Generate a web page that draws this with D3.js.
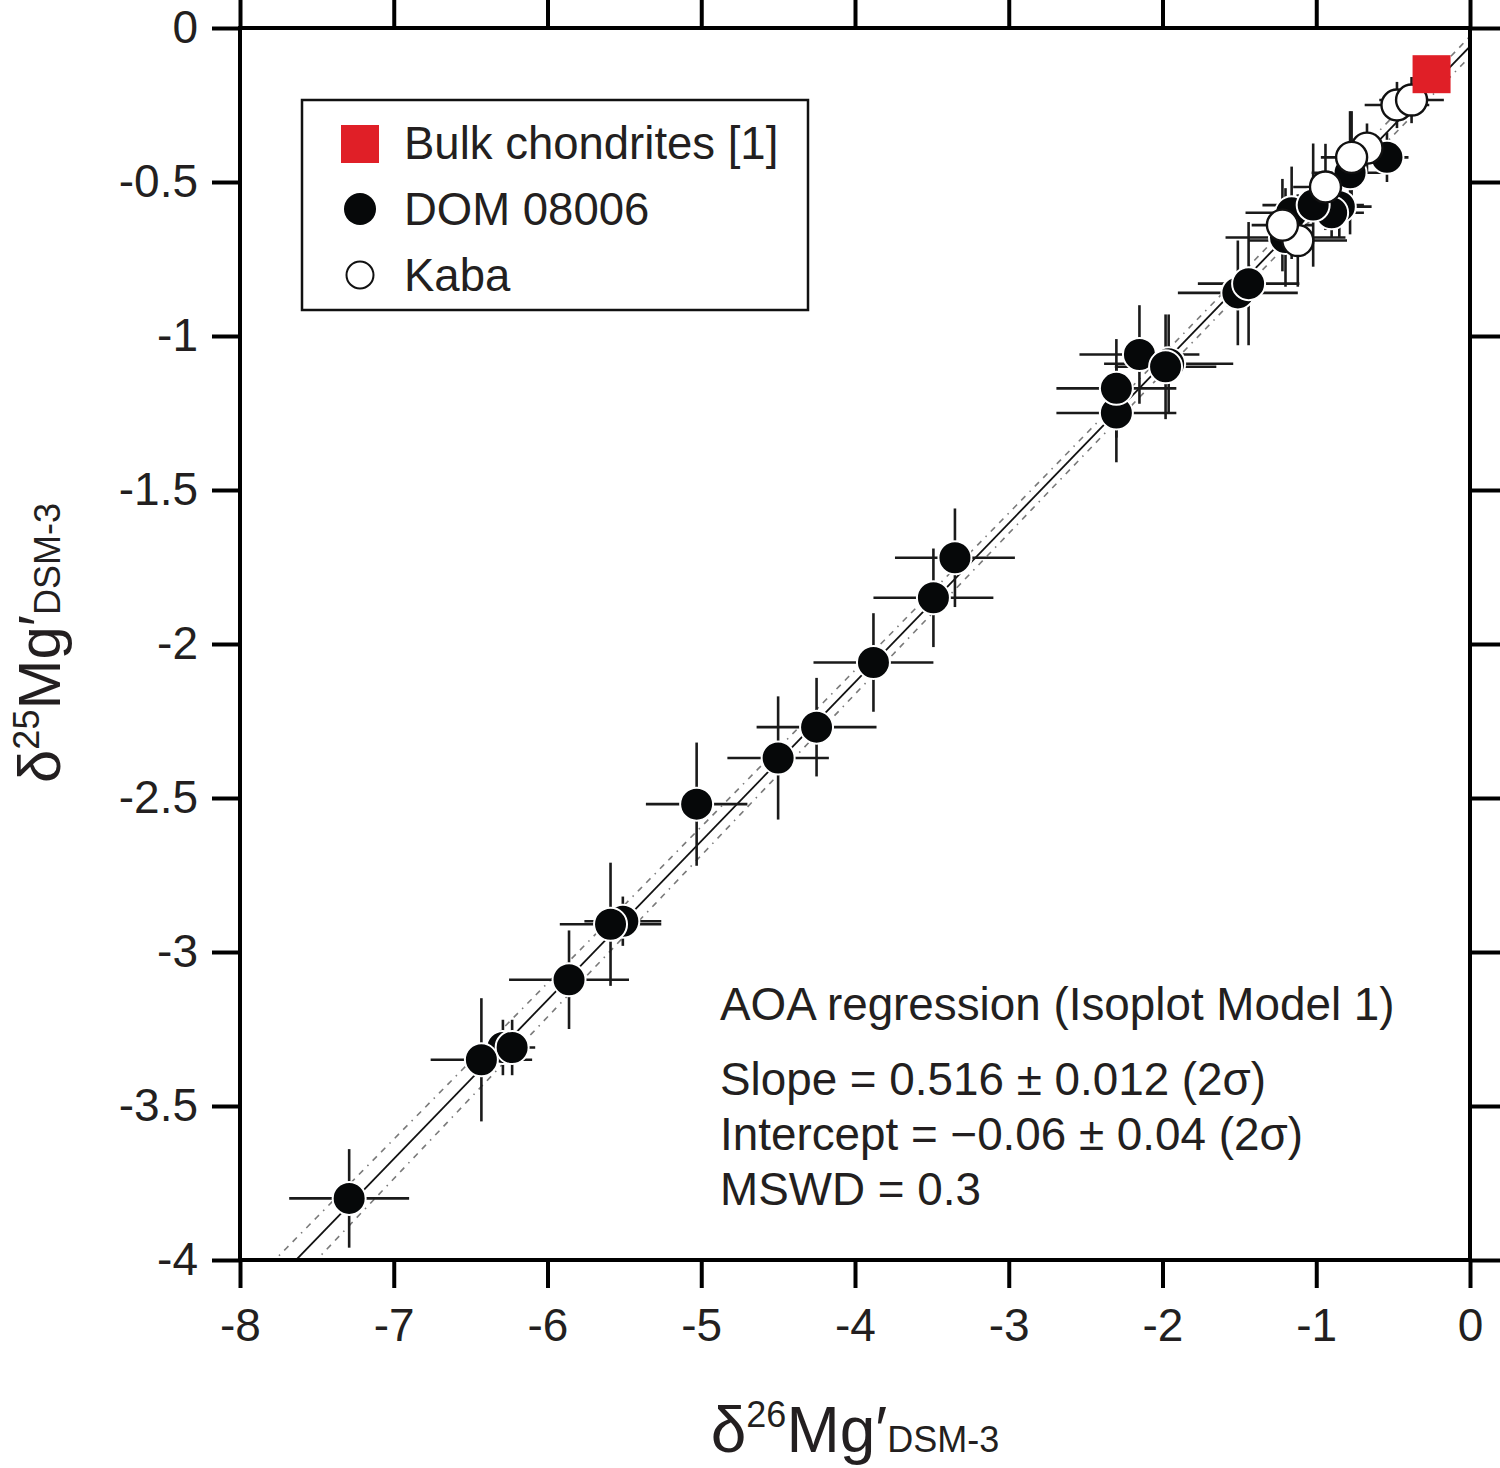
<!DOCTYPE html>
<html>
<head>
<meta charset="utf-8">
<script src="https://cdn.jsdelivr.net/npm/d3@7"></script>
<style>
  html, body { margin: 0; padding: 0; background: #fff; }
  svg { display: block; }
  text { font-family: Arial, "Liberation Sans", Helvetica, sans-serif; fill: #231f20; }
</style>
</head>
<body>
<svg id="chart" width="1500" height="1468"></svg>
<script>
// ---------------- DATA ----------------
const xTicks = [-8, -7, -6, -5, -4, -3, -2, -1, 0];
const xTickLabels = ["-8", "-7", "-6", "-5", "-4", "-3", "-2", "-1", "0"];
const yTicks = [0, -0.5, -1, -1.5, -2, -2.5, -3, -3.5, -4];
const yTickLabels = ["0", "-0.5", "-1", "-1.5", "-2", "-2.5", "-3", "-3.5", "-4"];

// [d26Mg', d25Mg', 2s x, 2s y]
const domPoints = [
  [-7.29, -3.80, 0.39, 0.16],
  [-6.29, -3.31, 0.15, 0.09],
  [-6.23, -3.31, 0.15, 0.09],
  [-6.43, -3.35, 0.33, 0.20],
  [-5.86, -3.09, 0.39, 0.16],
  [-5.51, -2.90, 0.25, 0.08],
  [-5.59, -2.91, 0.33, 0.20],
  [-5.03, -2.52, 0.33, 0.20],
  [-4.50, -2.37, 0.33, 0.20],
  [-4.25, -2.27, 0.39, 0.16],
  [-3.88, -2.06, 0.39, 0.16],
  [-3.49, -1.85, 0.39, 0.16],
  [-3.35, -1.72, 0.39, 0.16],
  [-2.30, -1.25, 0.39, 0.16],
  [-2.30, -1.17, 0.39, 0.16],
  [-2.15, -1.06, 0.39, 0.16],
  [-1.96, -1.09, 0.42, 0.16],
  [-1.98, -1.10, 0.33, 0.17],
  [-1.51, -0.86, 0.39, 0.17],
  [-1.44, -0.83, 0.33, 0.20],
  [-1.20, -0.68, 0.39, 0.16],
  [-1.16, -0.60, 0.30, 0.15],
  [-0.85, -0.58, 0.21, 0.10],
  [-0.90, -0.60, 0.21, 0.08],
  [-1.02, -0.575, 0.33, 0.20],
  [-0.78, -0.47, 0.25, 0.20],
  [-0.54, -0.42, 0.14, 0.08]
];
const kabaPoints = [
  [-1.12, -0.69, 0.32, 0.15],
  [-1.22, -0.64, 0.20, 0.15],
  [-0.94, -0.516, 0.21, 0.14],
  [-0.67, -0.39, 0.15, 0.08],
  [-0.77, -0.42, 0.20, 0.15],
  [-0.475, -0.25, 0.21, 0.075],
  [-0.38, -0.234, 0.21, 0.075]
];
const bulkPoints = [[-0.25, -0.15]];

// regression (AOA, Isoplot Model 1)
const regSlope = 0.516;
const regIntercept = -0.06;
// envelope half-width params (in δ25 units)
const envMinHalf = 0.029, envSlopeErr = 0.0104, envCentreX = -1.5;

const legendLabels = ["Bulk chondrites [1]", "DOM 08006", "Kaba"];
const noteLines = [
  "AOA regression (Isoplot Model 1)",
  "Slope = 0.516 \u00b1 0.012 (2\u03c3)",
  "Intercept = \u22120.06 \u00b1 0.04 (2\u03c3)",
  "MSWD = 0.3"
];

// ---------------- CHART ----------------
const svg = d3.select("#chart");
const x = d3.scaleLinear().domain([-8, 0]).range([240, 1470]);
const y = d3.scaleLinear().domain([-4, 0]).range([1260, 28]);

svg.append("defs").append("clipPath").attr("id", "plotclip")
  .append("rect").attr("x", x(-8)).attr("y", y(0)).attr("width", x(0) - x(-8)).attr("height", y(-4) - y(0));

const plot = svg.append("g").attr("clip-path", "url(#plotclip)");

// envelope
const xs = d3.range(-8, 0.0001, 0.05);
const fit = v => regSlope * v + regIntercept;
const half = v => Math.sqrt(envMinHalf * envMinHalf + Math.pow(envSlopeErr * (v - envCentreX), 2));
const line = d3.line().x(d => x(d[0])).y(d => y(d[1]));
[1, -1].forEach(s => {
  plot.append("path")
    .attr("d", line(xs.map(v => [v, fit(v) + s * half(v)])))
    .attr("fill", "none").attr("stroke", "#7a7a7a").attr("stroke-width", 1.6)
    .attr("stroke-dasharray", "6,6,6,6,1.5,6");
});
plot.append("path")
  .attr("d", line([[-8, fit(-8)], [0, fit(0)]]))
  .attr("fill", "none").attr("stroke", "#111").attr("stroke-width", 1.8);

// error bars
const allErr = domPoints.concat(kabaPoints);
const eb = plot.append("g").attr("stroke", "#1a1a1a").attr("stroke-width", 2.6);
allErr.forEach(d => {
  eb.append("line").attr("x1", x(d[0] - d[2])).attr("x2", x(d[0] + d[2])).attr("y1", y(d[1])).attr("y2", y(d[1]));
  eb.append("line").attr("x1", x(d[0])).attr("x2", x(d[0])).attr("y1", y(d[1] - d[3])).attr("y2", y(d[1] + d[3]));
});

// points
plot.append("g").selectAll("circle").data(domPoints).join("circle")
  .attr("cx", d => x(d[0])).attr("cy", d => y(d[1])).attr("r", 16.5)
  .attr("fill", "#060809").attr("stroke", "#fff").attr("stroke-width", 2);
plot.append("g").selectAll("circle").data(kabaPoints).join("circle")
  .attr("cx", d => x(d[0])).attr("cy", d => y(d[1])).attr("r", 15.5)
  .attr("fill", "#fff").attr("stroke", "#111").attr("stroke-width", 2.4);
plot.append("g").selectAll("rect").data(bulkPoints).join("rect")
  .attr("x", d => x(d[0]) - 19).attr("y", d => y(d[1]) - 19).attr("width", 38).attr("height", 38)
  .attr("fill", "#e01f27");

// axes
const fmtX = (v) => xTickLabels[xTicks.indexOf(v)];
const fmtY = (v) => yTickLabels[yTicks.indexOf(v)];
function styleAxis(g) {
  g.select(".domain").remove();
  g.selectAll(".tick line").attr("stroke", "#000").attr("stroke-width", 4);
  g.selectAll(".tick text").attr("font-size", 46).attr("fill", "#231f20")
    .attr("font-family", "Arial, 'Liberation Sans', sans-serif");
}
svg.append("g").attr("transform", `translate(0,${y(-4)})`)
  .call(d3.axisBottom(x).tickValues(xTicks).tickFormat(fmtX).tickSize(28).tickSizeOuter(0).tickPadding(20))
  .call(styleAxis);
svg.append("g").attr("transform", `translate(${x(-8)},0)`)
  .call(d3.axisLeft(y).tickValues(yTicks).tickFormat(fmtY).tickSize(28).tickSizeOuter(0).tickPadding(14))
  .call(styleAxis);
svg.append("g").attr("transform", `translate(0,${y(0)})`)
  .call(d3.axisTop(x).tickValues(xTicks).tickFormat("").tickSize(30).tickSizeOuter(0))
  .call(styleAxis);
svg.append("g").attr("transform", `translate(${x(0)},0)`)
  .call(d3.axisRight(y).tickValues(yTicks).tickFormat("").tickSize(30).tickSizeOuter(0))
  .call(styleAxis);

// frame
svg.append("rect").attr("x", x(-8)).attr("y", y(0)).attr("width", x(0) - x(-8)).attr("height", y(-4) - y(0))
  .attr("fill", "none").attr("stroke", "#000").attr("stroke-width", 4);

// legend
const lg = svg.append("g");
lg.append("rect").attr("x", 302).attr("y", 100).attr("width", 506).attr("height", 210)
  .attr("fill", "#fff").attr("stroke", "#111").attr("stroke-width", 2.5);
lg.append("rect").attr("x", 341).attr("y", 125).attr("width", 38).attr("height", 38).attr("fill", "#e01f27");
lg.append("circle").attr("cx", 360).attr("cy", 209).attr("r", 16).attr("fill", "#060809");
lg.append("circle").attr("cx", 360).attr("cy", 275).attr("r", 13.5).attr("fill", "#fff").attr("stroke", "#111").attr("stroke-width", 2);
legendLabels.forEach((t, i) => {
  lg.append("text").attr("x", 404).attr("y", 159 + i * 66).attr("font-size", 45.5).text(t);
});

// annotation
const noteY = [1020, 1095, 1150, 1205];
noteLines.forEach((t, i) => {
  svg.append("text").attr("x", 720).attr("y", noteY[i]).attr("font-size", 45.8).text(t);
});

// axis titles
function title(g, pre, fs, sup) {
  const t = g.append("text").attr("text-anchor", "middle");
  t.append("tspan").attr("font-size", fs).text("\u03b4");
  t.append("tspan").attr("font-size", 36).attr("dy", -sup).text(pre);
  t.append("tspan").attr("font-size", fs).attr("dy", sup).text("Mg\u2032");
  t.append("tspan").attr("font-size", 36).text("DSM-3");
  return t;
}
title(svg.append("g").attr("transform", "translate(855,1452)"), "26", 64, 25);
title(svg.append("g").attr("transform", "translate(60,643) rotate(-90)"), "25", 60, 21);
</script>
</body>
</html>
